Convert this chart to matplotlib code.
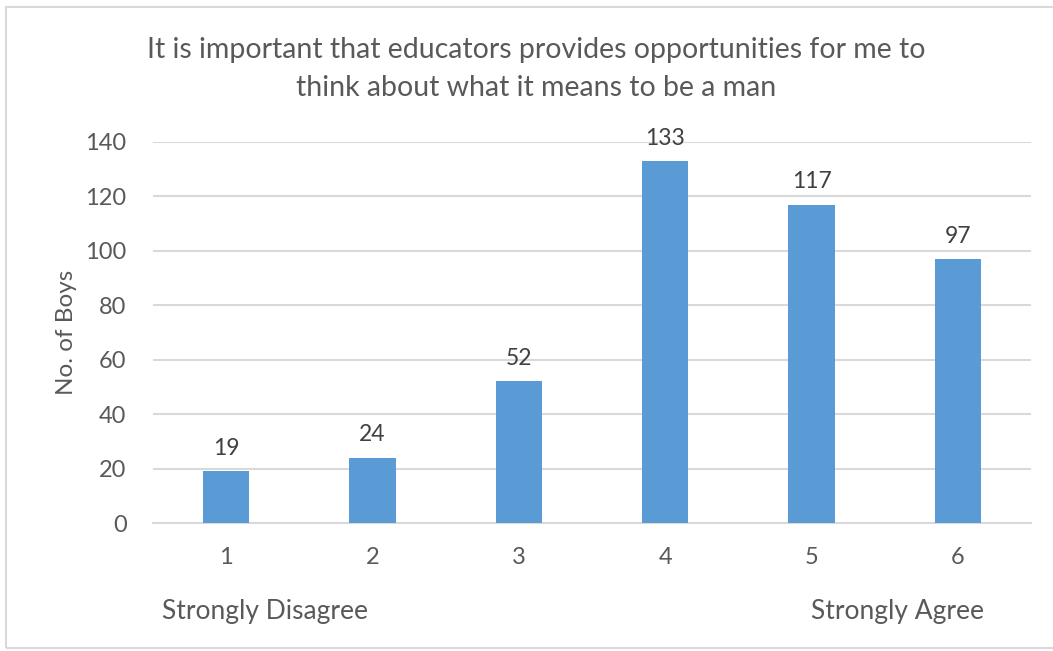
import matplotlib
matplotlib.use("Agg")
import matplotlib.pyplot as plt
from matplotlib.patches import Rectangle

categories = ["1", "2", "3", "4", "5", "6"]
values = [19, 24, 52, 133, 117, 97]
yticks = [0, 20, 40, 60, 80, 100, 120, 140]
title = "It is important that educators provides opportunities for me to\nthink about what it means to be a man"
ylabel = "No. of Boys"
left_note = "Strongly Disagree"
right_note = "Strongly Agree"

plt.rcParams['font.family'] = ['Lato', 'DejaVu Sans']
W, H = 1053, 651
fig = plt.figure(figsize=(W/100, H/100), dpi=100)
ax = fig.add_axes([153/W, 1-523/H, (1031-153)/W, (523-142)/H])

x = list(range(len(categories)))
ax.bar(x, values, width=0.315, color="#5B9BD5", zorder=3)
for xi, v in zip(x, values):
    ax.annotate(str(v), (xi, v), xytext=(0, 9), textcoords="offset points",
                ha="center", va="bottom", fontsize=16.5, color="#404040")
ax.set_xlim(-0.5, len(categories)-0.5)
ax.set_ylim(0, 140)
ax.set_yticks(yticks)
ax.set_xticks(x)
ax.set_xticklabels(categories)
ax.grid(axis="y", color="#D9D9D9", linewidth=1.5, zorder=0)
for s in ["top", "right", "left"]:
    ax.spines[s].set_visible(False)
ax.spines["bottom"].set_color("#D9D9D9")
ax.spines["bottom"].set_linewidth(1.5)
ax.tick_params(axis="both", length=0, labelsize=17, colors="#595959")
ax.tick_params(axis="y", pad=19)
ax.tick_params(axis="x", pad=17)
ax.set_ylabel(ylabel, fontsize=17.5, color="#595959", labelpad=6)

fig.text(536/W, 1-69/H, title, ha="center", va="center", fontsize=20.5,
         color="#595959", linespacing=1.55)
fig.text(162/W, 1-612/H, left_note, ha="left", va="center", fontsize=19, color="#595959")
fig.text(811/W, 1-612/H, right_note, ha="left", va="center", fontsize=19, color="#595959")

fig.patches.append(Rectangle((6/W, 3/H), (W-4)/W, 1-10/H, transform=fig.transFigure,
                             fill=False, edgecolor="#D9D9D9", linewidth=1.5))
fig.savefig("out.png", dpi=100)
